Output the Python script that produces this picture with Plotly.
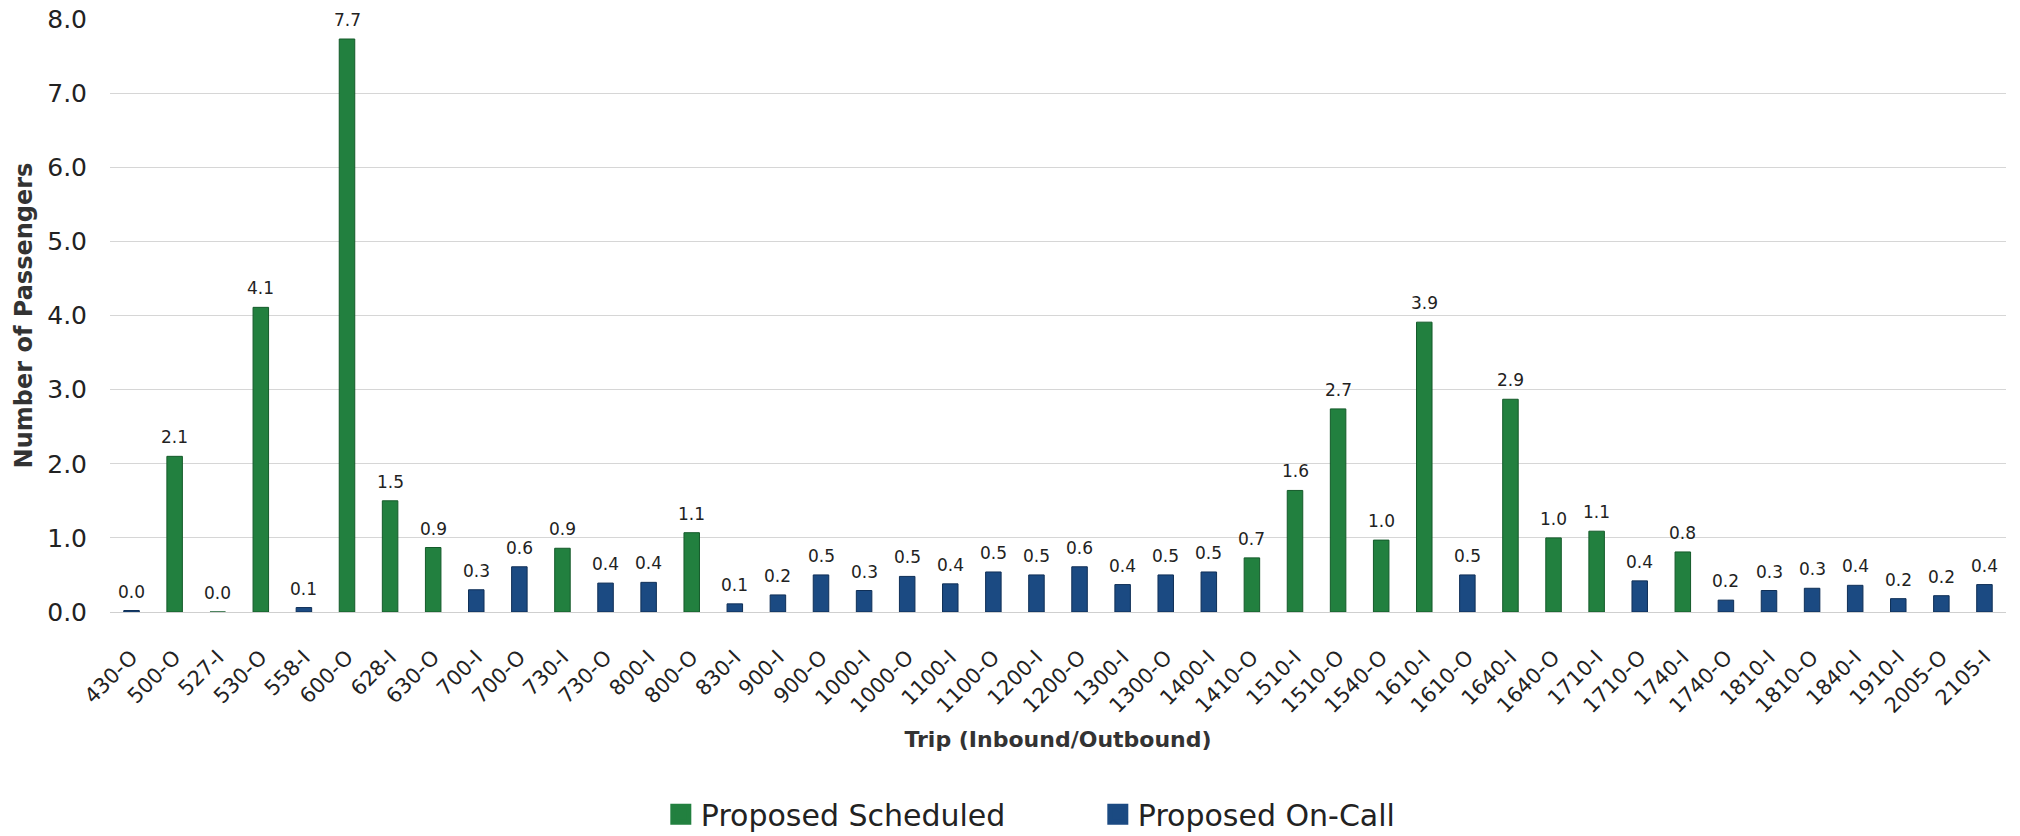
import plotly.graph_objects as go

trips = ["430-O", "500-O", "527-I", "530-O", "558-I", "600-O", "628-I", "630-O",
         "700-I", "700-O", "730-I", "730-O", "800-I", "800-O", "830-I", "900-I",
         "900-O", "1000-I", "1000-O", "1100-I", "1100-O", "1200-I", "1200-O",
         "1300-I", "1300-O", "1400-I", "1410-O", "1510-I", "1510-O", "1540-O",
         "1610-I", "1610-O", "1640-I", "1640-O", "1710-I", "1710-O", "1740-I",
         "1740-O", "1810-I", "1810-O", "1840-I", "1910-I", "2005-O", "2105-I"]

passengers = [0.02, 2.10, 0.00, 4.11, 0.06, 7.73, 1.50, 0.87,
              0.30, 0.61, 0.86, 0.39, 0.40, 1.07, 0.11, 0.23,
              0.50, 0.29, 0.48, 0.38, 0.54, 0.50, 0.61,
              0.37, 0.50, 0.54, 0.73, 1.64, 2.74, 0.97,
              3.91, 0.50, 2.87, 1.00, 1.09, 0.42, 0.81,
              0.16, 0.29, 0.32, 0.36, 0.18, 0.22, 0.37]

service = ["On-Call", "Scheduled", "Scheduled", "Scheduled", "On-Call", "Scheduled", "Scheduled", "Scheduled",
           "On-Call", "On-Call", "Scheduled", "On-Call", "On-Call", "Scheduled", "On-Call", "On-Call",
           "On-Call", "On-Call", "On-Call", "On-Call", "On-Call", "On-Call", "On-Call",
           "On-Call", "On-Call", "On-Call", "Scheduled", "Scheduled", "Scheduled", "Scheduled",
           "Scheduled", "On-Call", "Scheduled", "Scheduled", "Scheduled", "On-Call", "Scheduled",
           "On-Call", "On-Call", "On-Call", "On-Call", "On-Call", "On-Call", "On-Call"]

y_ticks = [0, 1, 2, 3, 4, 5, 6, 7, 8]

GREEN = "#22803F"
BLUE = "#1B4A82"
FONT = "DejaVu Sans"
TXT = "#222222"

sched_vals = [v if s == "Scheduled" else None for v, s in zip(passengers, service)]
oncall_vals = [v if s == "On-Call" else None for v, s in zip(passengers, service)]

fig = go.Figure()
fig.add_trace(go.Bar(x=trips, y=sched_vals, marker=dict(color=GREEN, line=dict(color="#145a2a", width=1)),
                     showlegend=False, name="Proposed Scheduled"))
fig.add_trace(go.Bar(x=trips, y=oncall_vals, marker=dict(color=BLUE, line=dict(color="#0f2f57", width=1)),
                     showlegend=False, name="Proposed On-Call"))

# legend proxies (larger square symbols)
fig.add_trace(go.Scatter(x=[None], y=[None], mode="markers", name="Proposed Scheduled",
                         marker=dict(symbol="square", size=16, color=GREEN, line=dict(color=GREEN, width=5))))
fig.add_trace(go.Scatter(x=[None], y=[None], mode="markers", name="Proposed On-Call",
                         marker=dict(symbol="square", size=16, color=BLUE, line=dict(color=BLUE, width=5))))

for t, v in zip(trips, passengers):
    fig.add_annotation(x=t, y=v, text=f"{v:.1f}", showarrow=False, yanchor="bottom",
                       yshift=7, font=dict(family=FONT, size=17, color=TXT))

fig.update_layout(
    width=2020, height=836,
    margin=dict(l=110, r=14, t=19, b=224),
    paper_bgcolor="white", plot_bgcolor="white",
    barmode="overlay", bargap=0.64,
    font=dict(family=FONT, color=TXT),
    legend=dict(orientation="h", x=0.521, xanchor="center",
                yref="container", y=0.026, yanchor="middle",
                font=dict(family=FONT, size=30, color=TXT), entrywidth=392,
                itemsizing="trace"),
)
fig.update_xaxes(
    type="category", categoryorder="array", categoryarray=trips,
    tickangle=-45, tickfont=dict(family=FONT, size=21, color=TXT),
    showgrid=False, showline=False, ticks="", ticklabelstandoff=28,
    automargin=False,
    title=dict(text="<b>Trip (Inbound/Outbound)</b>", font=dict(family=FONT, size=22, color="#333333"),
               standoff=14),
)
fig.update_yaxes(
    range=[0, 8], tickvals=y_ticks, tickformat=".1f",
    tickfont=dict(family=FONT, size=25, color=TXT),
    showgrid=True, gridcolor="#d6d6d6", gridwidth=1,
    zeroline=True, zerolinecolor="#cfcfcf", zerolinewidth=1,
    showline=False, ticks="", ticklabelstandoff=22,
    automargin=False,
    title=dict(text="<b>Number of Passengers</b>", font=dict(family=FONT, size=24, color="#333333"),
               standoff=7),
)

fig.write_html("out.html")
